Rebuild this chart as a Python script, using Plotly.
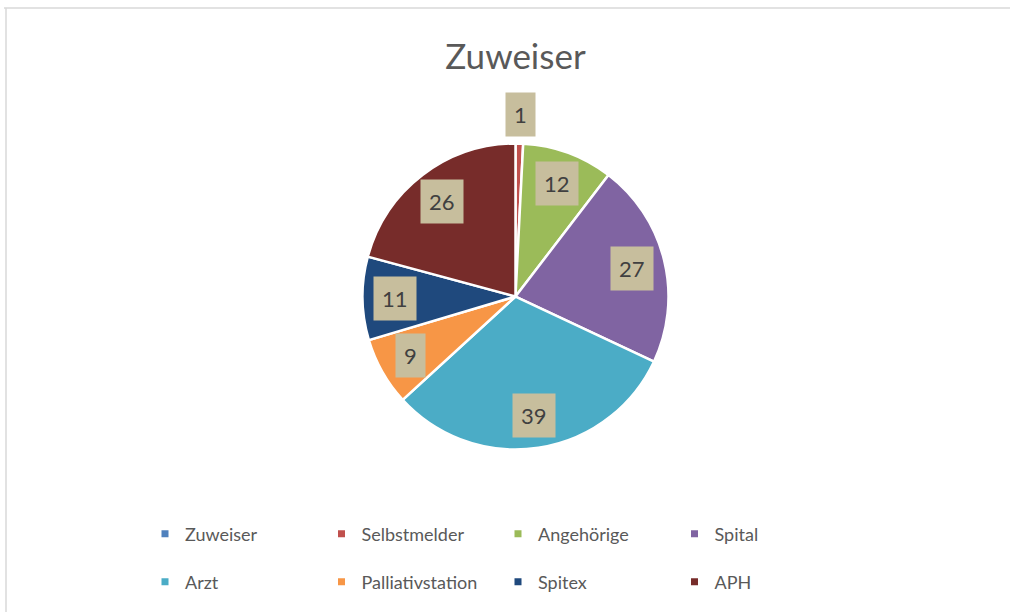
import math
import plotly.graph_objects as go

# ---- data ----
categories = ["Zuweiser", "Selbstmelder", "Angehörige", "Spital",
              "Arzt", "Palliativstation", "Spitex", "APH"]
values = [0, 1, 12, 27, 39, 9, 11, 26]
colors = ["#4F81BD", "#C0504D", "#9BBB59", "#8064A2",
          "#4BACC6", "#F79646", "#1F497D", "#772C2A"]
title_text = "Zuweiser"

W, H = 1010, 612
FONT = "Lato, 'Liberation Sans', sans-serif"

# pie geometry (paper fractions)
dom_y = [0.2655, 0.7655]
cx_frac = 0.5104
dom_x = [cx_frac - 0.2, cx_frac + 0.2]

fig = go.Figure()
fig.add_trace(go.Pie(
    labels=categories, values=values,
    marker=dict(colors=colors, line=dict(color="white", width=2.5)),
    sort=False, direction="clockwise", rotation=0,
    textinfo="none", hoverinfo="label+value",
    showlegend=False,
    domain=dict(x=dom_x, y=dom_y),
))

# data labels in tan boxes, positioned from the slice mid-angles
total = sum(values)
cx = cx_frac * W
cy = (1 - (dom_y[0] + dom_y[1]) / 2) * H
r = (dom_y[1] - dom_y[0]) * H / 2
cum = 0
annotations = []
for v in values:
    if v > 0:
        mid = (cum + v / 2) / total * 2 * math.pi
        f = 1.19 if v / total < 0.03 else 0.785
        px = cx + f * r * math.sin(mid)
        py = cy - f * r * math.cos(mid)
        annotations.append(dict(
            x=px / W, y=1 - py / H, xref="paper", yref="paper",
            text=str(v), showarrow=False,
            font=dict(family=FONT, size=22, color="#404040"),
            bgcolor="#C7BE9D", borderpad=8,
            xanchor="center", yanchor="middle",
        ))
    cum += v

# legend entries (two rows)
for i, (cat, col) in enumerate(zip(categories, colors)):
    fig.add_trace(go.Scatter(
        x=[None], y=[None], mode="markers", name=cat,
        marker=dict(symbol="square", size=7, color=col),
        legend="legend" if i < 4 else "legend2",
        hoverinfo="skip",
    ))

leg_common = dict(
    orientation="h", xanchor="left", yanchor="middle",
    x=145 / W, entrywidth=131.5, entrywidthmode="pixels",
    font=dict(family=FONT, size=18, color="#595959"),
    bgcolor="rgba(0,0,0,0)", itemclick=False, itemdoubleclick=False,
)

fig.update_layout(
    width=W, height=H,
    margin=dict(l=0, r=0, t=0, b=0),
    paper_bgcolor="white", plot_bgcolor="white",
    title=dict(text=title_text, x=0.5104, xanchor="center",
               y=1 - 57 / H, yanchor="middle",
               font=dict(family=FONT, size=35, color="#595959")),
    xaxis=dict(visible=False, fixedrange=True),
    yaxis=dict(visible=False, fixedrange=True),
    legend=dict(**leg_common, y=1 - 534 / H),
    legend2=dict(**leg_common, y=1 - 582 / H),
    annotations=annotations,
    shapes=[
        dict(type="line", xref="paper", yref="paper",
             x0=4 / W, x1=1, y0=1 - 8 / H, y1=1 - 8 / H,
             line=dict(color="#D9D9D9", width=1.5)),
        dict(type="line", xref="paper", yref="paper",
             x0=6 / W, x1=6 / W, y0=0, y1=1 - 8 / H,
             line=dict(color="#D9D9D9", width=1.5)),
    ],
)

fig.write_html("out.html",
               config={"displayModeBar": False},
               post_script="document.body.style.margin='0';"
                           "document.body.style.padding='0';")
